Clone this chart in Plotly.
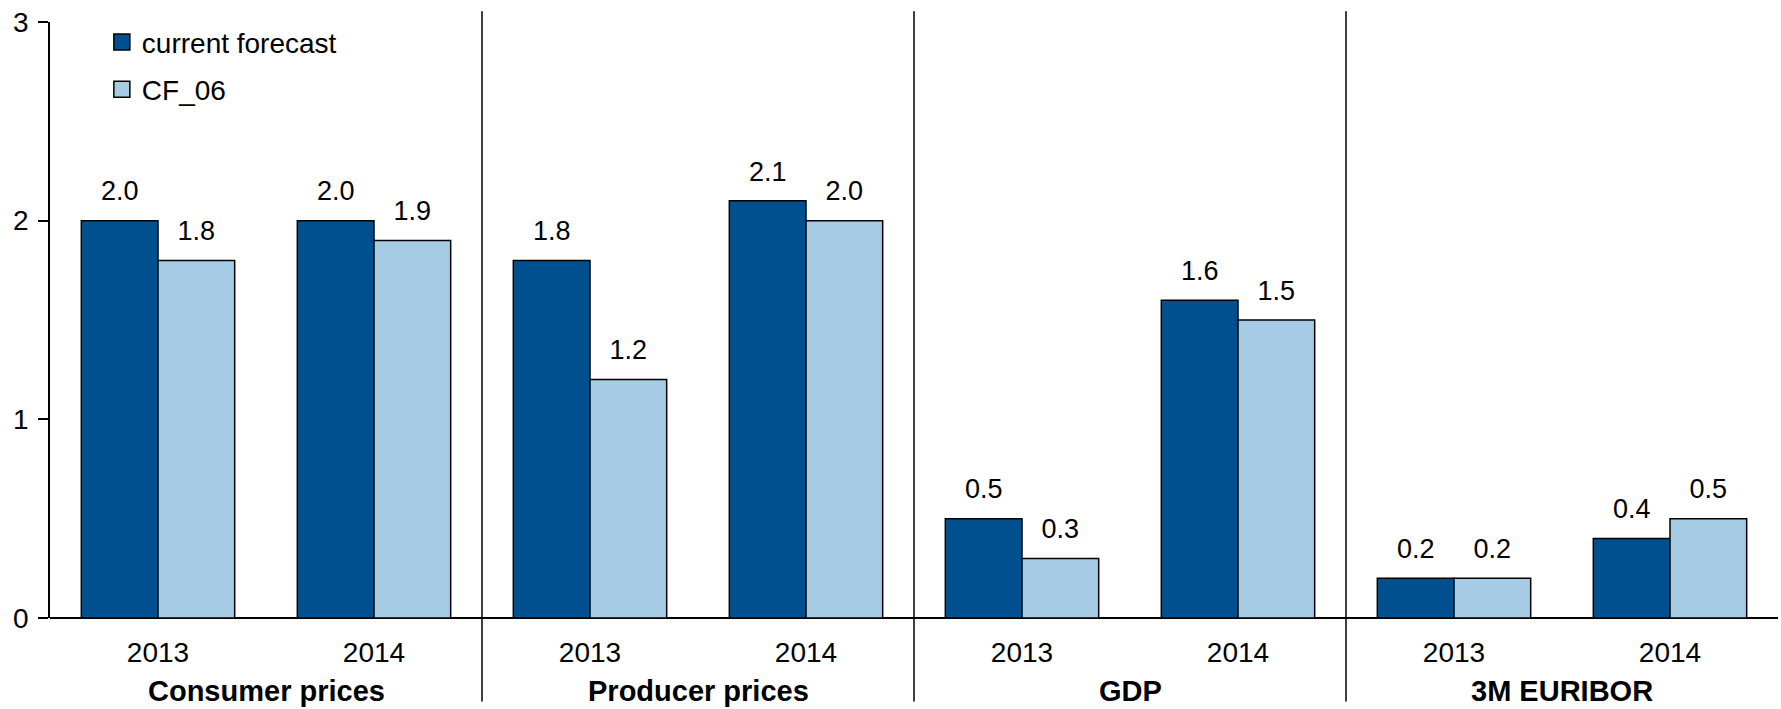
import plotly.graph_objects as go

categories = ["Consumer prices", "Producer prices", "GDP", "3M EURIBOR"]
years = ["2013", "2014"]
current_forecast = [2.0, 2.0, 1.8, 2.1, 0.5, 1.6, 0.2, 0.4]
cf_06 = [1.8, 1.9, 1.2, 2.0, 0.3, 1.5, 0.2, 0.5]
y_ticks = [0, 1, 2, 3]

DARK = "#00508F"
LIGHT = "#A6CBE4"
FONT = "Liberation Sans, Arial, sans-serif"
BARGAP = 0.29

n_years = len(years)
xpos = list(range(len(categories) * n_years))
tick_text = [y for _ in categories for y in years]

fig = go.Figure()
for name, vals, col in [("current forecast", current_forecast, DARK), ("CF_06", cf_06, LIGHT)]:
    fig.add_trace(go.Bar(
        x=xpos, y=vals, name=name, offsetgroup=name, alignmentgroup="a",
        marker=dict(color=col, line=dict(color="black", width=1.5)),
        showlegend=False, hoverinfo="skip",
    ))
    fig.add_trace(go.Scatter(
        x=xpos, y=vals, mode="markers+text", text=[f"{v:.1f}" for v in vals],
        textposition="top center", offsetgroup=name, alignmentgroup="a",
        marker=dict(size=20, opacity=0), showlegend=False, hoverinfo="skip",
        textfont=dict(family=FONT, size=27, color="black"), cliponaxis=False,
    ))
    fig.add_trace(go.Scatter(
        x=[None], y=[None], mode="markers", name=name, legendgroup=name,
        marker=dict(symbol="square", size=20, color=col, line=dict(color="black", width=1.5)),
    ))

shapes = []
for i in range(1, len(categories)):
    xs = i * n_years - 0.5
    shapes.append(dict(type="line", xref="x", yref="paper", x0=xs, x1=xs, y0=-0.14, y1=1.018,
                       line=dict(color="black", width=1.5)))

annotations = []
for i, c in enumerate(categories):
    xc = i * n_years + (n_years - 1) / 2
    annotations.append(dict(x=xc, xref="x", y=0, yref="paper", yanchor="middle", yshift=-73,
                            text=f"<b>{c}</b>", showarrow=False,
                            font=dict(family=FONT, size=29, color="black")))

fig.update_layout(
    width=1781, height=709,
    margin=dict(l=50, r=3, t=22, b=91),
    paper_bgcolor="white", plot_bgcolor="white",
    barmode="group", bargap=BARGAP, bargroupgap=0, scattermode="group", scattergap=BARGAP,
    font=dict(family=FONT, color="black"),
    shapes=shapes, annotations=annotations,
    legend=dict(x=0.03, y=1.008, xanchor="left", yanchor="top", traceorder="grouped",
                tracegroupgap=8, font=dict(family=FONT, size=28), bgcolor="rgba(0,0,0,0)",
                itemwidth=30),
    xaxis=dict(range=[-0.5, len(xpos) - 0.5], tickvals=xpos, ticktext=tick_text,
               showgrid=False, zeroline=False, showline=False, ticks="",
               ticklabelstandoff=15, tickfont=dict(family=FONT, size=28)),
    yaxis=dict(range=[0, 3], tickvals=y_ticks, showgrid=False, zeroline=True,
               zerolinecolor="black", zerolinewidth=1.5, showline=True, linecolor="black",
               linewidth=1.5, ticks="outside", ticklen=10, tickcolor="black", tickwidth=1.5,
               tickfont=dict(family=FONT, size=28), ticklabelstandoff=4),
)

fig.write_html("out.html", config={"displayModeBar": False},
               post_script="document.body.style.margin='0';")
